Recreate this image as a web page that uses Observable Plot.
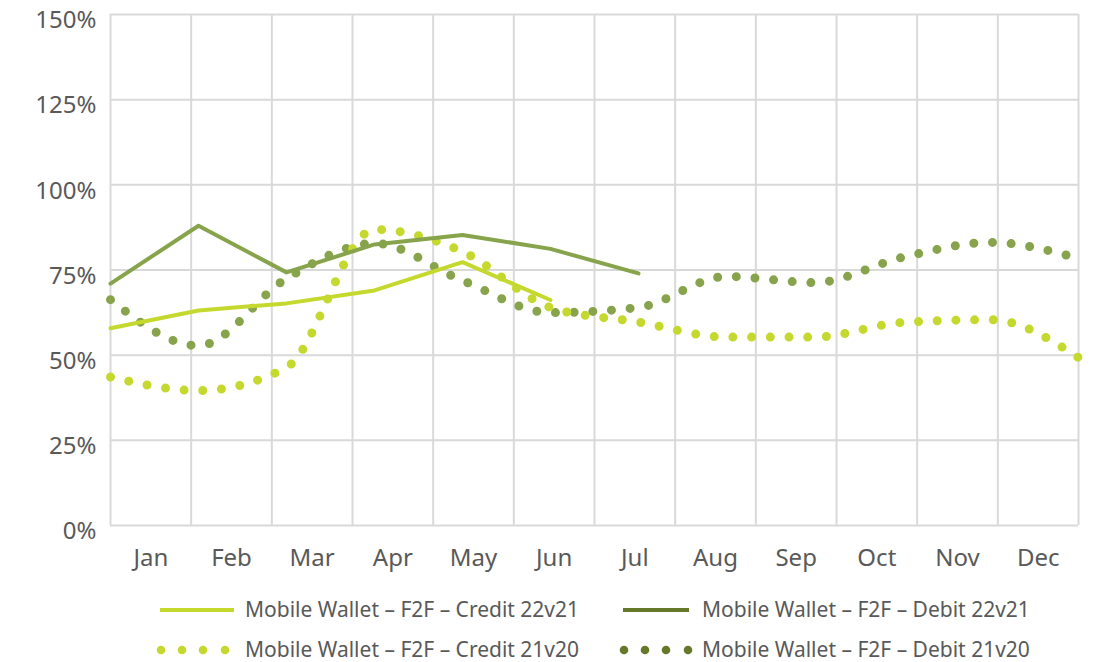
<!DOCTYPE html>
<html>
<head>
<meta charset="utf-8">
<script src="https://cdn.jsdelivr.net/npm/d3@7"></script>
<script src="https://cdn.jsdelivr.net/npm/@observablehq/plot@0.6"></script>
<style>
  html, body { margin: 0; padding: 0; background: #fff; }
  body { width: 1098px; height: 662px; overflow: hidden; font-family: "Noto Sans", sans-serif; }
  #chart svg { display: block; }
  .legend { position: relative; height: 82px; color: #595959; font-size: 21px; }
  .sw { position: absolute; }
  .lbl { position: absolute; white-space: nowrap; line-height: 24px; }
</style>
</head>
<body>
<div id="chart"></div>
<div class="legend" id="legend"></div>
<script>
// Month categories (x axis labels)
const months = ["Jan","Feb","Mar","Apr","May","Jun","Jul","Aug","Sep","Oct","Nov","Dec"];
// Data point index (0 = Jan ... 11 = Dec) for each monthly observation
const idx = [0,1,2,3,4,5,6,7,8,9,10,11];
// Values (fraction)
const credit22v21 = [0.579, 0.631, 0.652, 0.690, 0.773, 0.662];
const debit22v21  = [0.710, 0.880, 0.743, 0.825, 0.853, 0.812, 0.740];
const credit21v20 = [0.436, 0.396, 0.464, 0.869, 0.804, 0.640, 0.597, 0.553, 0.553, 0.596, 0.604, 0.493];
const debit21v20  = [0.663, 0.528, 0.725, 0.828, 0.719, 0.625, 0.640, 0.731, 0.713, 0.787, 0.831, 0.784];
const yTicks = [0, 0.25, 0.5, 0.75, 1.0, 1.25, 1.5];

const names = {
  c22: "Mobile Wallet – F2F – Credit 22v21",
  d22: "Mobile Wallet – F2F – Debit 22v21",
  c21: "Mobile Wallet – F2F – Credit 21v20",
  d21: "Mobile Wallet – F2F – Debit 21v20"
};
const colCredit = "#c4d82e";
const colDebit = "#87a34b";
const colDebitLegend = "#66792b";
const gridCol = "#d9d9d9";

const toRows = (vals) => vals.map((v, i) => ({i: idx[i], v}));
const nMonths = months.length;
const span = idx[idx.length - 1];
const bounds = d3.range(nMonths + 1).map(k => k * span / nMonths);
const centers = d3.range(nMonths).map(k => (k + 0.5) * span / nMonths);

const font = '"Noto Sans", sans-serif';

const chart = Plot.plot({
  width: 1098,
  height: 580,
  marginLeft: 110,
  marginRight: 20,
  marginTop: 14,
  marginBottom: 55,
  style: {fontFamily: font, color: "#595959", background: "#fff"},
  x: {domain: [0, span], axis: null},
  y: {domain: [0, 1.5], axis: null},
  marks: [
    Plot.ruleY(yTicks, {stroke: gridCol, strokeWidth: 2}),
    Plot.ruleX(bounds, {y1: 0, y2: 1.5, stroke: gridCol, strokeWidth: 2}),
    Plot.axisY({ticks: yTicks, tickFormat: d => Math.round(d * 100) + "%", tickSize: 0, tickPadding: 14, fontSize: 24, fill: "#595959", dy: 6, label: null}),
    Plot.axisX({ticks: centers, tickFormat: (d, i) => months[i], tickSize: 0, tickPadding: 23, fontSize: 24, fill: "#595959", label: null}),
    Plot.line(toRows(debit21v20), {x: "i", y: "v", stroke: colDebit, strokeWidth: 9, curve: "monotone-x", strokeDasharray: "0 18.7", strokeLinecap: "round"}),
    Plot.line(toRows(credit21v20), {x: "i", y: "v", stroke: colCredit, strokeWidth: 9, curve: "monotone-x", strokeDasharray: "0 18.7", strokeLinecap: "round"}),
    Plot.line(toRows(debit22v21), {x: "i", y: "v", stroke: colDebit, strokeWidth: 4}),
    Plot.line(toRows(credit22v21), {x: "i", y: "v", stroke: colCredit, strokeWidth: 4})
  ]
});
document.getElementById("chart").appendChild(chart);

// Legend
const legend = document.getElementById("legend");
const items = [
  {key: "c22", color: colCredit, dotted: false, x0: 160, x1: 234, text: 245, cy: 30},
  {key: "d22", color: colDebitLegend, dotted: false, x0: 623, x1: 689, text: 702, cy: 30},
  {key: "c21", color: colCredit, dotted: true, dots: [161, 182, 203, 225], text: 245, cy: 70},
  {key: "d21", color: colDebitLegend, dotted: true, dots: [624, 645, 666, 688], text: 702, cy: 70}
];
const ns = "http://www.w3.org/2000/svg";
for (const it of items) {
  const s = document.createElementNS(ns, "svg");
  s.setAttribute("class", "sw");
  s.setAttribute("width", 100);
  s.setAttribute("height", 20);
  const ox = (it.dotted ? it.dots[0] : it.x0) - 10;
  s.style.left = ox + "px";
  s.style.top = (it.cy - 10) + "px";
  if (it.dotted) {
    it.dots.forEach(cx => {
      const c = document.createElementNS(ns, "circle");
      c.setAttribute("cx", cx - ox); c.setAttribute("cy", 10); c.setAttribute("r", 4.3);
      c.setAttribute("fill", it.color);
      s.appendChild(c);
    });
  } else {
    const l = document.createElementNS(ns, "line");
    l.setAttribute("x1", it.x0 - ox); l.setAttribute("x2", it.x1 - ox); l.setAttribute("y1", 10); l.setAttribute("y2", 10);
    l.setAttribute("stroke", it.color); l.setAttribute("stroke-width", 4);
    s.appendChild(l);
  }
  legend.appendChild(s);
  const t = document.createElement("div");
  t.className = "lbl";
  t.textContent = names[it.key];
  t.style.left = it.text + "px";
  t.style.top = (it.cy - 13) + "px";
  legend.appendChild(t);
}
</script>
</body>
</html>
